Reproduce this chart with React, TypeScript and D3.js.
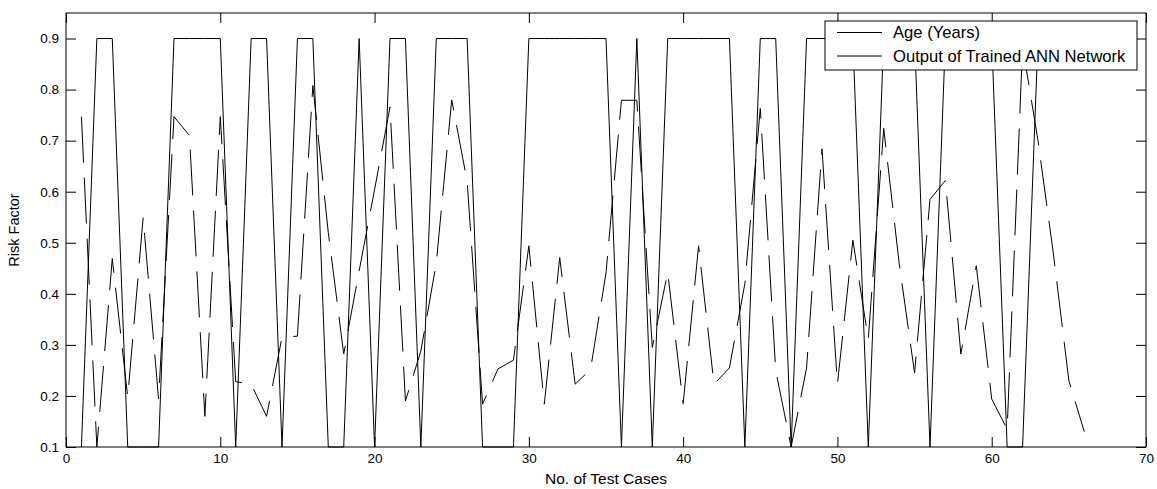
import React, { useEffect, useRef } from "react";
import * as d3 from "d3";

// risk factor per test case (case number = position + 1)
const ageYears = [
  0.1, 0.9, 0.9, 0.1, 0.1, 0.1, 0.9, 0.9, 0.9, 0.9,
  0.1, 0.9, 0.9, 0.1, 0.9, 0.9, 0.1, 0.1, 0.9, 0.1,
  0.9, 0.9, 0.1, 0.9, 0.9, 0.9, 0.1, 0.1, 0.1, 0.9,
  0.9, 0.9, 0.9, 0.9, 0.9, 0.1, 0.9, 0.1, 0.9, 0.9,
  0.9, 0.9, 0.9, 0.1, 0.9, 0.9, 0.1, 0.9, 0.9, 0.9,
  0.9, 0.1, 0.9, 0.9, 0.9, 0.1, 0.9, 0.9, 0.9, 0.9,
  0.1, 0.1, 0.9, 0.9, 0.9, 0.9,
];

const annOutput = [
  0.747, 0.1, 0.469, 0.198, 0.549, 0.194, 0.747, 0.71, 0.16, 0.747,
  0.228, 0.223, 0.16, 0.315, 0.317, 0.808, 0.52, 0.282, 0.445, 0.604,
  0.766, 0.19, 0.288, 0.46, 0.78, 0.62, 0.184, 0.253, 0.27, 0.494,
  0.184, 0.471, 0.223, 0.252, 0.441, 0.779, 0.779, 0.295, 0.442, 0.185,
  0.494, 0.223, 0.255, 0.42, 0.763, 0.25, 0.1, 0.255, 0.684, 0.223,
  0.505, 0.311, 0.724, 0.46, 0.245, 0.585, 0.622, 0.282, 0.455, 0.194,
  0.135, 0.885, 0.7, 0.478, 0.23, 0.13,
];

const xTicks = [0, 10, 20, 30, 40, 50, 60, 70];
const yTicks = [0.1, 0.2, 0.3, 0.4, 0.5, 0.6, 0.7, 0.8, 0.9];
const legendLabels = ["Age (Years)", "Output of Trained ANN Network"];

const FONT = "'Liberation Sans', Arial, Helvetica, sans-serif";

export default function App() {
  const svgRef = useRef<SVGSVGElement | null>(null);

  useEffect(() => {
    document.body.style.margin = "0";
    const width = 1157;
    const height = 489;
    const left = 66;
    const right = 1146;
    const top = 13;
    const bottom = 447;

    const svg = d3.select(svgRef.current).attr("width", width).attr("height", height);
    svg.selectAll("*").remove();
    svg.append("rect").attr("width", width).attr("height", height).attr("fill", "#fff");

    // scales
    const x = d3.scaleLinear().domain([0, 70]).range([left, right]);
    const y = d3.scaleLinear().domain([0.1, 0.95]).range([bottom, top]);

    // axes, ticks pointing inward like matlab
    const styleAxis = (g: any) => {
      g.select(".domain").remove();
      g.selectAll("line").attr("stroke", "#000");
      g.selectAll("text").attr("font-family", FONT).attr("font-size", 13.5).attr("fill", "#000");
    };
    svg.append("g").attr("transform", `translate(0,${bottom})`)
      .call(d3.axisBottom(x).tickValues(xTicks).tickSize(-10).tickPadding(6).tickFormat(d3.format("d")))
      .call(styleAxis);
    svg.append("g").attr("transform", `translate(0,${top})`)
      .call(d3.axisTop(x).tickValues(xTicks).tickSize(-10).tickFormat(() => ""))
      .call(styleAxis);
    svg.append("g").attr("transform", `translate(${left},0)`)
      .call(d3.axisLeft(y).tickValues(yTicks).tickSize(-10).tickPadding(7).tickFormat(d3.format(".1f")))
      .call(styleAxis);
    svg.append("g").attr("transform", `translate(${right},0)`)
      .call(d3.axisRight(y).tickValues(yTicks).tickSize(-10).tickFormat(() => ""))
      .call(styleAxis);

    // plot box
    svg.append("rect")
      .attr("x", left).attr("y", top)
      .attr("width", right - left).attr("height", bottom - top)
      .attr("fill", "none").attr("stroke", "#000").attr("stroke-width", 1);

    const line = d3.line<number>()
      .x((_, i) => x(i + 1))
      .y((d) => y(d));

    svg.append("path").datum(ageYears)
      .attr("d", line).attr("fill", "none")
      .attr("stroke", "#000").attr("stroke-width", 1);

    svg.append("path").datum(annOutput)
      .attr("d", line).attr("fill", "none")
      .attr("stroke", "#000").attr("stroke-width", 1)
      .attr("stroke-dasharray", "46 15");

    // axis labels
    svg.append("text")
      .attr("x", (left + right) / 2).attr("y", 484)
      .attr("text-anchor", "middle")
      .attr("font-family", FONT).attr("font-size", 15.5)
      .text("No. of Test Cases");
    svg.append("text")
      .attr("transform", `translate(19,${(top + bottom) / 2}) rotate(-90)`)
      .attr("text-anchor", "middle")
      .attr("font-family", FONT).attr("font-size", 14.5)
      .text("Risk Factor");

    // legend
    const legend = svg.append("g");
    legend.append("rect")
      .attr("x", 825).attr("y", 21).attr("width", 312).attr("height", 49)
      .attr("fill", "#fff").attr("stroke", "#000");
    legendLabels.forEach((label, i) => {
      const ly = 32.5 + i * 23.5;
      legend.append("line")
        .attr("x1", 837).attr("x2", 882).attr("y1", ly).attr("y2", ly)
        .attr("stroke", "#000");
      legend.append("text")
        .attr("x", 893).attr("y", ly + 5.5)
        .attr("font-family", FONT).attr("font-size", 16.6)
        .text(label);
    });
  }, []);

  return <svg ref={svgRef} style={{ display: "block" }} />;
}
